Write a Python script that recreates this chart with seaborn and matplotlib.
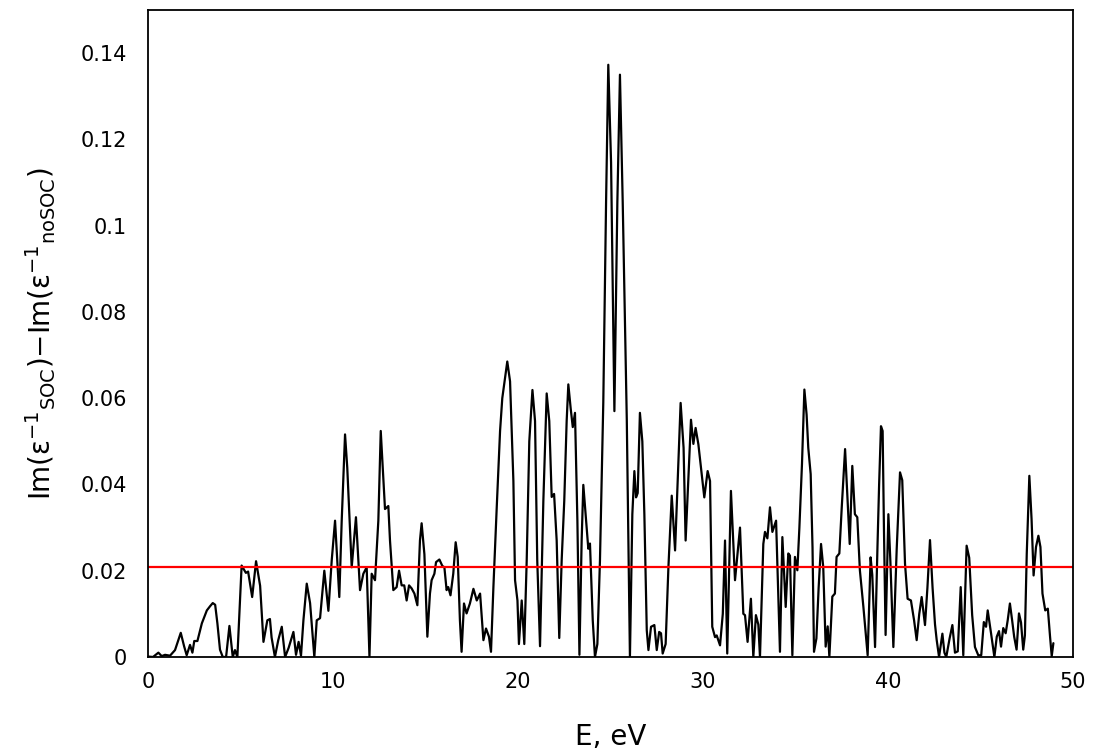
import numpy as np
import matplotlib
matplotlib.use("Agg")
import matplotlib.pyplot as plt
import seaborn as sns

# values (E in eV, difference of loss functions)
energy = [
    0.00, 0.27, 0.56, 0.74, 0.92, 1.19, 1.46, 1.77, 1.95, 2.09, 2.27, 2.40, 2.50, 2.67, 2.91,
    3.18, 3.36, 3.50, 3.63, 3.75, 3.89, 4.04, 4.22, 4.40, 4.58, 4.70, 4.83, 5.06, 5.29, 5.41,
    5.63, 5.84, 6.06, 6.24, 6.45, 6.59, 6.68, 6.86, 7.04, 7.23, 7.41, 7.60, 7.86, 8.00, 8.14,
    8.27, 8.40, 8.58, 8.76, 8.99, 9.12, 9.30, 9.39, 9.53, 9.75, 9.93, 10.11, 10.34, 10.47, 10.65,
    10.77, 11.01, 11.24, 11.46, 11.64, 11.82, 11.97, 12.09, 12.27, 12.45, 12.58, 12.81, 12.99, 13.08, 13.26,
    13.44, 13.57, 13.71, 13.85, 13.98, 14.11, 14.25, 14.40, 14.56, 14.70, 14.79, 14.94, 15.10, 15.24, 15.33,
    15.48, 15.57, 15.75, 15.91, 16.02, 16.14, 16.23, 16.35, 16.50, 16.63, 16.74, 16.86, 16.95, 17.08, 17.22,
    17.40, 17.59, 17.77, 17.95, 18.13, 18.27, 18.43, 18.54, 18.67, 18.85, 19.03, 19.15, 19.30, 19.42, 19.57,
    19.75, 19.84, 19.97, 20.05, 20.20, 20.34, 20.47, 20.61, 20.78, 20.92, 21.04, 21.19, 21.37, 21.55, 21.69,
    21.82, 21.95, 22.09, 22.23, 22.36, 22.50, 22.63, 22.72, 22.85, 22.96, 23.08, 23.21, 23.32, 23.44, 23.53,
    23.68, 23.80, 23.89, 24.04, 24.16, 24.29, 24.43, 24.61, 24.76, 24.88, 25.03, 25.21, 25.37, 25.51, 25.66,
    25.88, 26.05, 26.18, 26.29, 26.38, 26.47, 26.59, 26.72, 26.83, 26.96, 27.05, 27.19, 27.37, 27.50, 27.63,
    27.73, 27.82, 27.98, 28.13, 28.31, 28.49, 28.63, 28.79, 28.95, 29.06, 29.20, 29.35, 29.48, 29.60, 29.75,
    29.93, 30.07, 30.25, 30.38, 30.50, 30.65, 30.74, 30.92, 31.07, 31.19, 31.31, 31.51, 31.73, 32.00, 32.18,
    32.27, 32.41, 32.59, 32.72, 32.86, 32.99, 33.08, 33.26, 33.35, 33.48, 33.62, 33.75, 33.95, 34.16, 34.29,
    34.47, 34.61, 34.70, 34.83, 34.97, 35.10, 35.21, 35.35, 35.48, 35.60, 35.69, 35.82, 35.92, 36.00, 36.13,
    36.25, 36.38, 36.50, 36.63, 36.74, 36.83, 36.99, 37.13, 37.22, 37.37, 37.50, 37.68, 37.82, 37.93, 38.07,
    38.21, 38.34, 38.48, 38.67, 38.90, 39.06, 39.15, 39.30, 39.43, 39.52, 39.62, 39.71, 39.78, 39.87, 40.02,
    40.13, 40.29, 40.47, 40.65, 40.77, 40.92, 41.06, 41.24, 41.41, 41.55, 41.69, 41.82, 42.00, 42.13, 42.27,
    42.41, 42.54, 42.63, 42.76, 42.94, 43.05, 43.15, 43.33, 43.48, 43.62, 43.77, 43.93, 44.07, 44.25, 44.39,
    44.55, 44.70, 44.88, 45.04, 45.18, 45.30, 45.39, 45.57, 45.75, 45.88, 46.00, 46.11, 46.23, 46.36, 46.47,
    46.59, 46.71, 46.82, 46.95, 47.08, 47.19, 47.31, 47.40, 47.50, 47.64, 47.76, 47.87, 48.00, 48.13, 48.24,
    48.35, 48.50, 48.64, 48.76, 48.85, 48.94,
]
diff = [
    0.0001, 0.0000, 0.0010, 0.0002, 0.0005, 0.0003, 0.0016, 0.0056, 0.0025, 0.0004, 0.0028, 0.0010, 0.0037, 0.0037, 0.0078,
    0.0108, 0.0118, 0.0125, 0.0121, 0.0078, 0.0017, 0.0000, 0.0000, 0.0072, 0.0000, 0.0016, 0.0000, 0.0212, 0.0195, 0.0198,
    0.0139, 0.0222, 0.0165, 0.0035, 0.0085, 0.0088, 0.0045, 0.0000, 0.0039, 0.0070, 0.0000, 0.0021, 0.0058, 0.0005, 0.0035,
    0.0003, 0.0085, 0.0170, 0.0125, 0.0000, 0.0085, 0.0090, 0.0132, 0.0200, 0.0107, 0.0224, 0.0316, 0.0139, 0.0316, 0.0516,
    0.0439, 0.0208, 0.0324, 0.0155, 0.0193, 0.0208, 0.0000, 0.0193, 0.0178, 0.0316, 0.0524, 0.0343, 0.0350, 0.0270, 0.0155,
    0.0162, 0.0200, 0.0166, 0.0166, 0.0131, 0.0166, 0.0159, 0.0147, 0.0120, 0.0270, 0.0310, 0.0238, 0.0047, 0.0147, 0.0178,
    0.0193, 0.0220, 0.0226, 0.0211, 0.0208, 0.0155, 0.0162, 0.0143, 0.0193, 0.0266, 0.0232, 0.0085, 0.0012, 0.0124, 0.0101,
    0.0124, 0.0158, 0.0131, 0.0147, 0.0039, 0.0066, 0.0047, 0.0012, 0.0162, 0.0347, 0.0524, 0.0600, 0.0647, 0.0685, 0.0639,
    0.0408, 0.0178, 0.0131, 0.0030, 0.0131, 0.0030, 0.0224, 0.0500, 0.0619, 0.0547, 0.0224, 0.0025, 0.0362, 0.0611, 0.0547,
    0.0371, 0.0378, 0.0270, 0.0044, 0.0224, 0.0362, 0.0547, 0.0632, 0.0575, 0.0533, 0.0566, 0.0316, 0.0005, 0.0270, 0.0399,
    0.0316, 0.0251, 0.0263, 0.0085, 0.0000, 0.0030, 0.0224, 0.0590, 0.1054, 0.1373, 0.1147, 0.0570, 0.1054, 0.1350, 0.1054,
    0.0550, 0.0000, 0.0331, 0.0431, 0.0370, 0.0380, 0.0566, 0.0500, 0.0331, 0.0062, 0.0016, 0.0070, 0.0074, 0.0016, 0.0058,
    0.0055, 0.0008, 0.0030, 0.0208, 0.0374, 0.0247, 0.0408, 0.0589, 0.0485, 0.0270, 0.0408, 0.0550, 0.0494, 0.0531, 0.0493,
    0.0424, 0.0370, 0.0431, 0.0408, 0.0070, 0.0046, 0.0050, 0.0027, 0.0100, 0.0270, 0.0008, 0.0385, 0.0178, 0.0300, 0.0100,
    0.0097, 0.0035, 0.0135, 0.0000, 0.0097, 0.0075, 0.0000, 0.0262, 0.0290, 0.0275, 0.0347, 0.0290, 0.0316, 0.0012, 0.0278,
    0.0116, 0.0240, 0.0235, 0.0004, 0.0232, 0.0201, 0.0300, 0.0447, 0.0620, 0.0562, 0.0485, 0.0424, 0.0254, 0.0012, 0.0043,
    0.0160, 0.0262, 0.0208, 0.0024, 0.0071, 0.0000, 0.0140, 0.0147, 0.0232, 0.0240, 0.0347, 0.0482, 0.0358, 0.0262, 0.0443,
    0.0331, 0.0324, 0.0201, 0.0116, 0.0004, 0.0231, 0.0190, 0.0023, 0.0254, 0.0400, 0.0535, 0.0524, 0.0300, 0.0051, 0.0331,
    0.0220, 0.0023, 0.0250, 0.0428, 0.0410, 0.0216, 0.0135, 0.0131, 0.0085, 0.0039, 0.0100, 0.0139, 0.0074, 0.0160, 0.0271,
    0.0160, 0.0076, 0.0040, 0.0000, 0.0054, 0.0010, 0.0000, 0.0043, 0.0074, 0.0010, 0.0013, 0.0162, 0.0004, 0.0258, 0.0230,
    0.0097, 0.0023, 0.0004, 0.0004, 0.0081, 0.0070, 0.0108, 0.0055, 0.0000, 0.0047, 0.0060, 0.0024, 0.0067, 0.0055, 0.0085,
    0.0124, 0.0085, 0.0047, 0.0017, 0.0101, 0.0080, 0.0017, 0.0050, 0.0239, 0.0420, 0.0320, 0.0189, 0.0255, 0.0281, 0.0255,
    0.0147, 0.0108, 0.0112, 0.0047, 0.0002, 0.0032,
]
mean_level = 0.0209

x_ticks = [0, 10, 20, 30, 40, 50]
y_ticks = [0, 0.02, 0.04, 0.06, 0.08, 0.1, 0.12, 0.14]
y_tick_labels = ["0", "0.02", "0.04", "0.06", "0.08", "0.1", "0.12", "0.14"]

sns.set_style("white")
plt.rcParams['font.family'] = ['DejaVu Sans']
plt.rcParams['mathtext.default'] = 'regular'

fig = plt.figure(figsize=(10.94, 7.51), dpi=100)
ax = fig.add_axes([0.1353, 0.1252, 0.8455, 0.8615])

sns.lineplot(x=energy, y=diff, color="black", linewidth=1.6, ax=ax, sort=False)
ax.axhline(mean_level, color="red", linewidth=1.6)

ax.set_xlim(0, 50)
ax.set_ylim(0, 0.15)
ax.set_xticks(x_ticks)
ax.set_yticks(y_ticks)
ax.set_yticklabels(y_tick_labels)
ax.tick_params(direction="in", length=7, width=1, colors="black", labelsize=15)
ax.tick_params(axis="x", pad=11)
ax.tick_params(axis="y", pad=15)

for spine in ax.spines.values():
    spine.set_visible(True)
    spine.set_linewidth(1.3)
    spine.set_color("black")

ax.set_xlabel("E, eV", fontsize=20, labelpad=22, color="black")
ax.set_ylabel(r"Im(ε$^{-1}$$_{SOC}$)−Im(ε$^{-1}$$_{noSOC}$)", fontsize=20,
              labelpad=16, color="black")

fig.savefig("out.png", dpi=100)
